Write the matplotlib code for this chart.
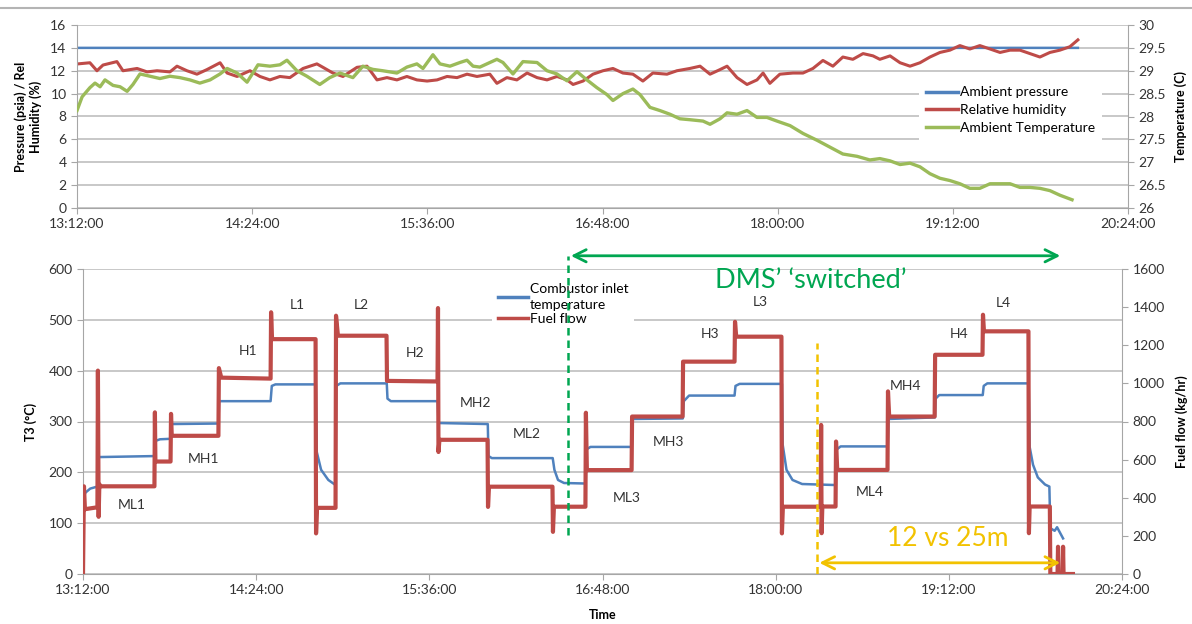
import numpy as np
import matplotlib
matplotlib.use('Agg')
import matplotlib.pyplot as plt
from matplotlib.lines import Line2D

plt.rcParams['font.family'] = ['Lato', 'DejaVu Sans']

# time axis: minutes after 13:12:00
tick_min = [0, 72, 144, 216, 288, 360, 432]
tick_lab = ['13:12:00', '14:24:00', '15:36:00', '16:48:00', '18:00:00', '19:12:00', '20:24:00']

# ---- top chart: ambient conditions ----
pres_t = [0, 100, 200, 300, 411.4]
pres_v = [14.0, 14.0, 13.99, 14.0, 14.0]

hum_t = [0.4, 5.3, 8.2, 10.7, 16.4, 18.9, 24.7, 28.8, 32.9, 38.2, 41.1, 45.2, 49.3, 53.4, 58.8,
         61.7, 65.8, 71.1, 75.2, 79.3, 83.4, 87.5, 92.9, 98.6, 101.1, 105.2, 109.3, 115.1, 119.2,
         123.3, 127.4, 131.5, 135.6, 139.7, 143.9, 148.0, 152.1, 156.2, 160.3, 164.4, 169.7, 172.6,
         176.7, 180.8, 185.0, 189.1, 193.2, 197.3, 201.4, 203.9, 208.0, 212.1, 216.2, 220.3, 224.4,
         228.5, 232.6, 236.7, 242.5, 246.6, 251.9, 256.1, 260.2, 264.3, 267.2, 271.3, 275.4, 279.5,
         282.0, 284.8, 288.9, 294.3, 298.4, 302.5, 306.6, 310.7, 314.8, 318.9, 323.1, 327.2, 330.0,
         334.2, 338.3, 342.4, 346.5, 350.6, 354.7, 358.8, 362.9, 367.0, 371.1, 375.3, 379.4, 383.5,
         387.6, 391.7, 395.8, 399.9, 404.0, 408.1, 411.4]
hum_v = [12.6, 12.7, 12.0, 12.5, 12.8, 12.0, 12.2, 11.9, 12.0, 11.9, 12.4, 12.0, 11.7, 12.1, 12.7,
         11.8, 11.5, 12.0, 11.5, 11.2, 11.5, 11.4, 12.2, 12.6, 12.3, 11.8, 11.5, 12.3, 12.4,
         11.2, 11.4, 11.2, 11.5, 11.2, 11.1, 11.2, 11.5, 11.4, 11.7, 11.5, 11.7, 10.9,
         11.4, 11.2, 11.8, 11.4, 11.2, 11.5, 11.2, 10.8, 11.1, 11.7, 12.0, 12.2, 11.8,
         11.7, 11.1, 11.8, 11.7, 12.0, 12.2, 12.4, 11.7, 12.1, 12.4, 11.4, 10.8, 11.2,
         11.8, 10.9, 11.7, 11.8, 11.8, 12.2, 12.9, 12.4, 13.2, 13.0, 13.5, 13.3, 13.0,
         13.3, 12.7, 12.4, 12.7, 13.2, 13.6, 13.8, 14.2, 13.9, 14.2, 13.9, 13.6, 13.8,
         13.8, 13.5, 13.2, 13.6, 13.8, 14.1, 14.7]

temp_t = [0, 2.1, 5.3, 7.4, 9.5, 11.5, 14.8, 17.7, 20.6, 23.0, 25.9, 30.0, 34.1, 38.2, 42.3, 46.4,
          50.5, 54.7, 58.8, 61.7, 65.8, 69.9, 74.4, 79.3, 83.4, 86.3, 90.4, 94.5, 99.8, 103.9, 108.1,
          113.4, 117.5, 121.6, 125.7, 131.5, 135.6, 139.7, 142.2, 146.3, 149.2, 153.3, 157.4, 160.3,
          162.8, 165.6, 169.7, 172.6, 175.1, 179.2, 183.3, 189.1, 193.2, 197.3, 201.4, 205.5, 209.6,
          213.7, 217.8, 220.3, 224.4, 228.5, 231.4, 235.5, 239.6, 243.7, 247.8, 251.9, 257.3, 260.2,
          264.3, 267.2, 271.3, 275.4, 279.5, 283.6, 287.7, 293.1, 298.4, 304.2, 309.5, 314.8, 320.6,
          325.9, 330.0, 334.2, 338.3, 342.4, 346.5, 350.6, 354.7, 358.8, 362.9, 367.0, 371.1, 375.3,
          379.4, 383.5, 387.6, 391.7, 395.8, 399.9, 404.0, 409.0]
temp_v = [28.13, 28.43, 28.63, 28.73, 28.65, 28.80, 28.68, 28.65, 28.55, 28.70, 28.93, 28.88, 28.83,
          28.88, 28.85, 28.80, 28.73, 28.80, 28.93, 29.05, 28.95, 28.75, 29.13, 29.10, 29.13, 29.23,
          29.00, 28.88, 28.70, 28.85, 28.95, 28.85, 29.10, 29.03, 29.00, 28.95, 29.08, 29.15, 29.05,
          29.35, 29.15, 29.10, 29.18, 29.23, 29.10, 29.08, 29.18, 29.25, 29.18, 28.93, 29.20, 29.18,
          29.00, 28.93, 28.78, 28.98, 28.80, 28.63, 28.48, 28.35, 28.50, 28.60, 28.48, 28.20, 28.13,
          28.05, 27.95, 27.93, 27.90, 27.83, 27.95, 28.08, 28.05, 28.13, 27.98, 27.98, 27.90, 27.80,
          27.63, 27.48, 27.33, 27.18, 27.13, 27.05, 27.08, 27.03, 26.95, 26.98, 26.90, 26.75, 26.65,
          26.60, 26.53, 26.43, 26.43, 26.53, 26.53, 26.53, 26.45, 26.45, 26.43, 26.38, 26.28, 26.18]

# ---- bottom chart: test points ----
fuel_t = [0, 0.4, 0.8, 6.0, 6.2, 6.5, 6.8, 7.5, 29.7, 29.9, 30.1, 36.4, 36.6, 36.9, 56.3, 56.5, 57.5,
          78.0, 78.2, 78.6, 96.7, 96.9, 97.3, 105.0, 105.2, 106.0, 126.2, 126.4, 147.4, 147.6, 147.8,
          148.2, 168.2, 168.4, 168.8, 195.2, 195.4, 195.8, 208.9, 209.1, 209.5, 228.1, 228.3, 249.3,
          249.5, 270.9, 271.1, 271.6, 290.4, 290.6, 291.0, 306.7, 306.9, 307.1, 307.4, 312.9, 313.1,
          313.6, 334.5, 334.7, 335.2, 354.1, 354.3, 374.0, 374.2, 374.6, 393.1, 393.3, 393.6, 402.0,
          402.2, 405.2, 405.4, 405.6, 407.3, 407.5, 407.7, 411.6]
fuel_v = [0, 460, 340, 350, 1067, 300, 470, 460, 460, 848, 590, 590, 840, 725, 725, 1080, 1030,
          1025, 1373, 1232, 1232, 213, 347, 347, 1355, 1250, 1250, 1013, 1010, 1395, 640,
          704, 704, 352, 458, 458, 221, 353, 353, 846, 545, 545, 826, 826,
          1114, 1114, 1323, 1245, 1245, 213, 353, 353, 782, 214, 354, 354, 695,
          546, 546, 958, 826, 826, 1150, 1150, 1360, 1273, 1273, 214, 354, 354,
          0, 0, 143, 0, 0, 143, 0, 0]

t3_t = [0.2, 1, 3, 6, 6.3, 29.8, 30.2, 32, 36.5, 36.8, 56.3, 56.6, 78.0, 78.5, 80, 96.8, 97.2, 99,
        102, 105, 105.3, 107, 126.3, 126.6, 128, 147.5, 147.8, 168.3, 168.6, 170, 195.3, 196, 197.5,
        200, 209, 209.3, 211, 228.2, 228.5, 249.4, 249.8, 252, 270.9, 271.3, 273, 290.6, 290.9,
        292.5, 295, 299, 313.0, 313.4, 315, 334.6, 334.9, 354.2, 354.5, 356, 374.1, 374.5, 376,
        393.2, 393.6, 395, 397, 400, 401.8, 402.2, 404, 405, 407.5]
t3_v = [150, 160, 168, 172, 230, 232, 262, 265, 266, 295, 296, 340, 340, 370, 373, 373, 240, 205,
        185, 175, 370, 375, 375, 345, 340, 340, 297, 295, 232, 228, 228, 205, 185,
        179, 178, 245, 250, 250, 305, 306, 340, 351, 351, 370, 374, 374, 255,
        205, 185, 177, 175, 245, 251, 251, 305, 308, 345, 352, 352, 370, 375,
        375, 250, 215, 190, 176, 172, 90, 85, 92, 70]

pt_names = ['ML1', 'MH1', 'H1', 'L1', 'L2', 'H2', 'MH2', 'ML2', 'ML3', 'MH3', 'H3', 'L3',
            'ML4', 'MH4', 'H4', 'L4']
pt_t = [20.4, 50.3, 68.7, 89.3, 115.9, 138.0, 163.4, 184.5, 226.1, 243.4, 260.7, 281.5,
        327.2, 341.8, 364.4, 382.7]
pt_v = [136, 226, 439, 530, 530, 434, 337, 275, 149, 260, 472, 536, 161, 370, 472, 534]

dms_start, dms_end = 201.7, 407.5
short_start, short_end = 305.0, 407.5

blue = '#4F81BD'
red = '#BE4B48'
lgreen = '#9BBB59'
dgreen = '#00A651'
gold = '#F2C200'
axc = '#a6a6a6'
txt = '#333333'

fig = plt.figure(figsize=(11.92, 6.24), dpi=100)
fig.add_artist(Line2D([0, 1], [1 - 7.5 / 624] * 2, color='#b4b4b4', lw=1.5))

ax1 = fig.add_axes([77 / 1192, 1 - 208 / 624, 1051 / 1192, 183 / 624])
ax1b = ax1.twinx()
ax3 = fig.add_axes([83 / 1192, 1 - 574 / 624, 1039 / 1192, 305 / 624])
ax3b = ax3.twinx()


def excel_axes(ax, axr):
    for a in (ax, axr):
        a.spines['top'].set_visible(False)
        for s in a.spines.values():
            s.set_color(axc)
        a.tick_params(direction='out', length=4, color=axc, labelsize=10, labelcolor=txt)
    ax.spines['right'].set_visible(False)
    axr.spines['left'].set_visible(False)
    axr.spines['bottom'].set_visible(False)
    ax.grid(axis='y', color='#c4c4c4', lw=1.3)
    ax.set_axisbelow(True)
    ax.set_xlim(0, 432)
    ax.set_xticks(tick_min)
    ax.set_xticklabels(tick_lab)


excel_axes(ax1, ax1b)
excel_axes(ax3, ax3b)

# top chart
l1, = ax1.plot(pres_t, pres_v, color=blue, lw=1.8, label='Ambient pressure')
l2, = ax1.plot(hum_t, hum_v, color=red, lw=2.2, label='Relative humidity')
l3, = ax1b.plot(temp_t, temp_v, color=lgreen, lw=2.4, label='Ambient Temperature')
ax1.set_ylim(0, 16)
ax1.set_yticks(range(0, 17, 2))
ax1b.set_ylim(26, 30)
ax1b.set_yticks(np.arange(26, 30.01, 0.5))
ax1b.set_yticklabels(['26', '26.5', '27', '27.5', '28', '28.5', '29', '29.5', '30'])
ax1.set_ylabel('Pressure (psia) / Rel\nHumidity (%)', fontsize=9, fontweight='bold', labelpad=6)
ax1b.set_ylabel('Temperature (C)', fontsize=9, fontweight='bold', labelpad=6)
leg1 = ax1b.legend([l1, l2, l3], [l.get_label() for l in (l1, l2, l3)], loc='upper left',
                   bbox_to_anchor=(0.795, 0.74), fontsize=10, frameon=True, facecolor='white',
                   edgecolor='none', framealpha=1, fancybox=False, handlelength=2.3,
                   handletextpad=0.1, labelspacing=0.4, borderpad=0.5)
for h in leg1.get_lines():
    h.set_linewidth(2.5)

# bottom chart
b1, = ax3.plot(t3_t, t3_v, color=blue, lw=1.8, label='Combustor inlet\ntemperature')
b2, = ax3b.plot(fuel_t, fuel_v, color=red, lw=3.0, label='Fuel flow')
ax3.set_ylim(0, 600)
ax3.set_yticks(range(0, 601, 100))
ax3b.set_ylim(0, 1600)
ax3b.set_yticks(range(0, 1601, 200))
ax3.set_ylabel('T3 (°C)', fontsize=9, fontweight='bold', labelpad=8)
ax3b.set_ylabel('Fuel flow (kg/hr)', fontsize=9, fontweight='bold', labelpad=8)
ax3.set_xlabel('Time', fontsize=9, fontweight='bold', labelpad=9)
leg2 = ax3b.legend([b1, b2], [b1.get_label(), b2.get_label()], loc='upper left',
                   bbox_to_anchor=(0.387, 0.995), fontsize=10, frameon=True, facecolor='white',
                   edgecolor='none', framealpha=1, fancybox=False, handlelength=2.2,
                   handletextpad=0.15, labelspacing=0.15, borderpad=0.4)
for h in leg2.get_lines():
    h.set_linewidth(2.5)
for t in leg2.get_texts():
    t.set_linespacing(1.35)

for name, t, v in zip(pt_names, pt_t, pt_v):
    ax3.text(t, v, name, fontsize=10, color=txt, ha='center', va='center')

# DMS switched marker
ax3b.plot([dms_start, dms_start], [76.7 * 8 / 3, 626 * 8 / 3], color=dgreen, lw=1.8,
          ls=(0, (3, 2)), clip_on=False, zorder=10)
ax3.annotate('', xy=(dms_start, 626), xytext=(dms_end, 626), xycoords='data',
             arrowprops=dict(arrowstyle='<->', color=dgreen, lw=2, mutation_scale=22),
             annotation_clip=False)
ax3b.text(302.7, 577 * 8 / 3, 'DMS\u2019 \u2018switched\u2019', fontsize=19.5, color=dgreen,
          ha='center', va='center', zorder=11)

# 12 vs 25 min marker
ax3b.plot([short_start, short_start], [0, 454 * 8 / 3], color=gold, lw=1.8,
          ls=(0, (3, 2)), zorder=10)
ax3b.annotate('', xy=(short_start, 22 * 8 / 3), xytext=(short_end, 22 * 8 / 3),
              arrowprops=dict(arrowstyle='<->', color=gold, lw=2, mutation_scale=22),
              annotation_clip=False, zorder=11)
ax3b.text(359.7, 70.8 * 8 / 3, '12 vs 25m', fontsize=19, color=gold, ha='center', va='center')

fig.savefig('out.png', dpi=100)
